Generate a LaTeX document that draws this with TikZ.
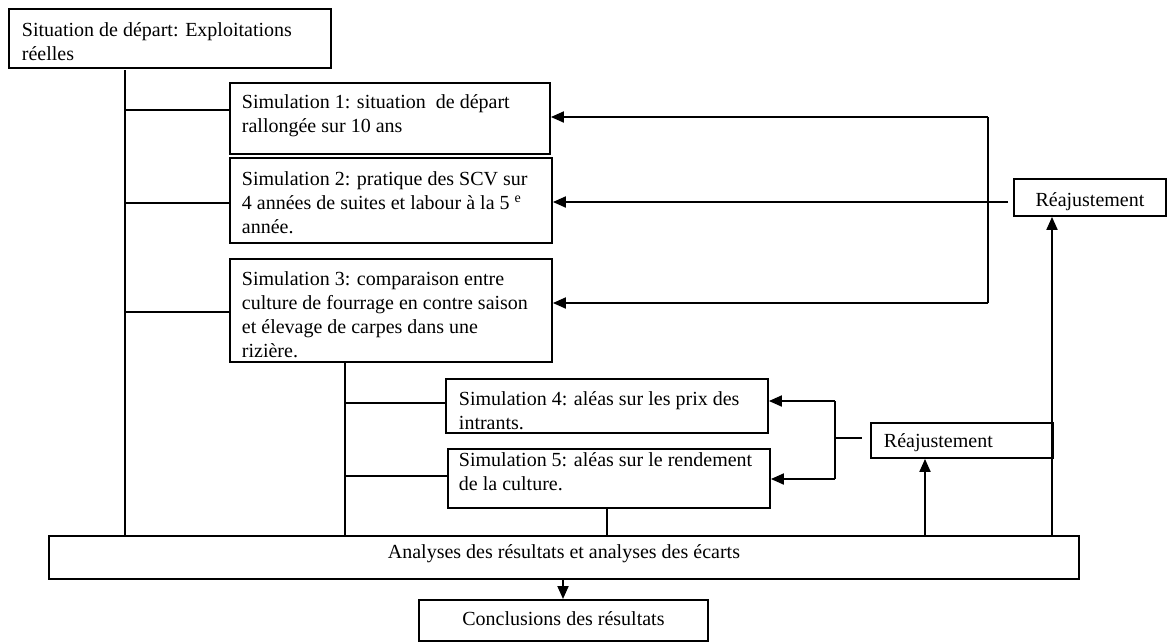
\documentclass[tikz,border=0pt]{standalone}
\usepackage{fontspec}
\setmainfont{Liberation Serif}
\usetikzlibrary{arrows.meta}
\newcommand\tbl[5]{\parbox[c][#2pt][t]{#1pt}{\raggedright\leftskip=#4pt\relax\rule{0pt}{#3pt}#5\par}}
\newcommand\tbc[4]{\parbox[c][#2pt][t]{#1pt}{\centering\rule{0pt}{#3pt}#4\par}}
\begin{document}
\begin{tikzpicture}[x=1pt,y=-1pt,
  box/.style={draw,line width=1.9pt,inner sep=0pt,anchor=north west,font=\fontsize{20}{24}\selectfont},
  ln/.style={line width=1.9pt},
  arr/.style={ln,-{Triangle[length=13pt,width=11pt]}}]
\useasboundingbox (0,0) rectangle (1169,641);
% boxes
\node[box] (top) at (8,8) {\tbl{322}{59}{28}{13}{Situation de départ: Exploitations\\réelles}};
\node[box] (s1) at (229,82) {\tbl{320}{71}{26}{12}{Simulation 1: situation~ de départ\\rallongée sur 10 ans}};
\node[box] (s2) at (229,157) {\tbl{322}{85}{28}{12}{Simulation 2: pratique des SCV sur\\4 années de suites et labour à la 5 \textsuperscript{e}\\année.}};
\node[box] (s3) at (229,258) {\tbl{322}{103}{27}{12}{Simulation 3: comparaison entre\\culture de fourrage en contre saison\\et élevage de carpes dans une\\rizière.}};
\node[box] (s4) at (445,378) {\tbl{322}{54}{27}{13}{Simulation 4: aléas sur les prix des\\intrants.}};
\node[box] (s5) at (447,448) {\tbl{322}{59}{18}{11}{Simulation 5: aléas sur le rendement\\de la culture.}};
\node[box] (r1) at (1013,178) {\tbc{152}{37}{28}{Réajustement}};
\node[box] (r2) at (870,422) {\tbl{182}{35}{25}{13}{Réajustement}};
\node[box] (ana) at (48,535) {\tbc{1030}{43}{23}{Analyses des résultats et analyses des écarts}};
\node[box] (con) at (418,599) {\tbc{289}{41}{26}{Conclusions des résultats}};
% left trunk
\coordinate (t1) at (125,70);
\draw[ln] (t1) -- (t1 |- ana.north);
\coordinate (b1) at (125,110); \draw[ln] (b1) -- (b1 -| s1.west);
\coordinate (b2) at (125,203); \draw[ln] (b2) -- (b2 -| s2.west);
\coordinate (b3) at (125,312); \draw[ln] (b3) -- (b3 -| s3.west);
% second trunk
\coordinate (t2) at (345,0);
\draw[ln] (t2 |- s3.south) -- (t2 |- ana.north);
\coordinate (b4) at (345,403); \draw[ln] (b4) -- (b4 -| s4.west);
\coordinate (b5) at (345,476); \draw[ln] (b5) -- (b5 -| s5.west);
\coordinate (t3) at (607,0);
\draw[ln] (t3 |- s5.south) -- (t3 |- ana.north);
% to conclusions
\coordinate (t4) at (563,0);
\draw[arr] (t4 |- ana.south) -- (t4 |- con.north);
% up to readjustments
\coordinate (t5) at (925,0);
\draw[arr] (t5 |- ana.north) -- (t5 |- r2.south);
\coordinate (t6) at (1052,0);
\draw[arr] (t6 |- ana.north) -- (t6 |- r1.south);
% upper feedback
\coordinate (f1) at (988,117);
\coordinate (f3) at (988,303);
\draw[ln] (f1) -- (f3);
\draw[arr] (f1) -- (f1 -| s1.east);
\draw[arr] (f3) -- (f3 -| s3.east);
\coordinate (f2) at (1008,202);
\draw[arr] (f2) -- (f2 -| s2.east);
% lower feedback
\coordinate (g1) at (835,401);
\coordinate (g2) at (835,479);
\draw[ln] (g1) -- (g2);
\draw[arr] (g1) -- (g1 -| s4.east);
\draw[arr] (g2) -- (g2 -| s5.east);
\coordinate (g3) at (835,438);
\coordinate (g4) at (862,438);
\draw[ln] (g3) -- (g4);
\end{tikzpicture}
\end{document}
